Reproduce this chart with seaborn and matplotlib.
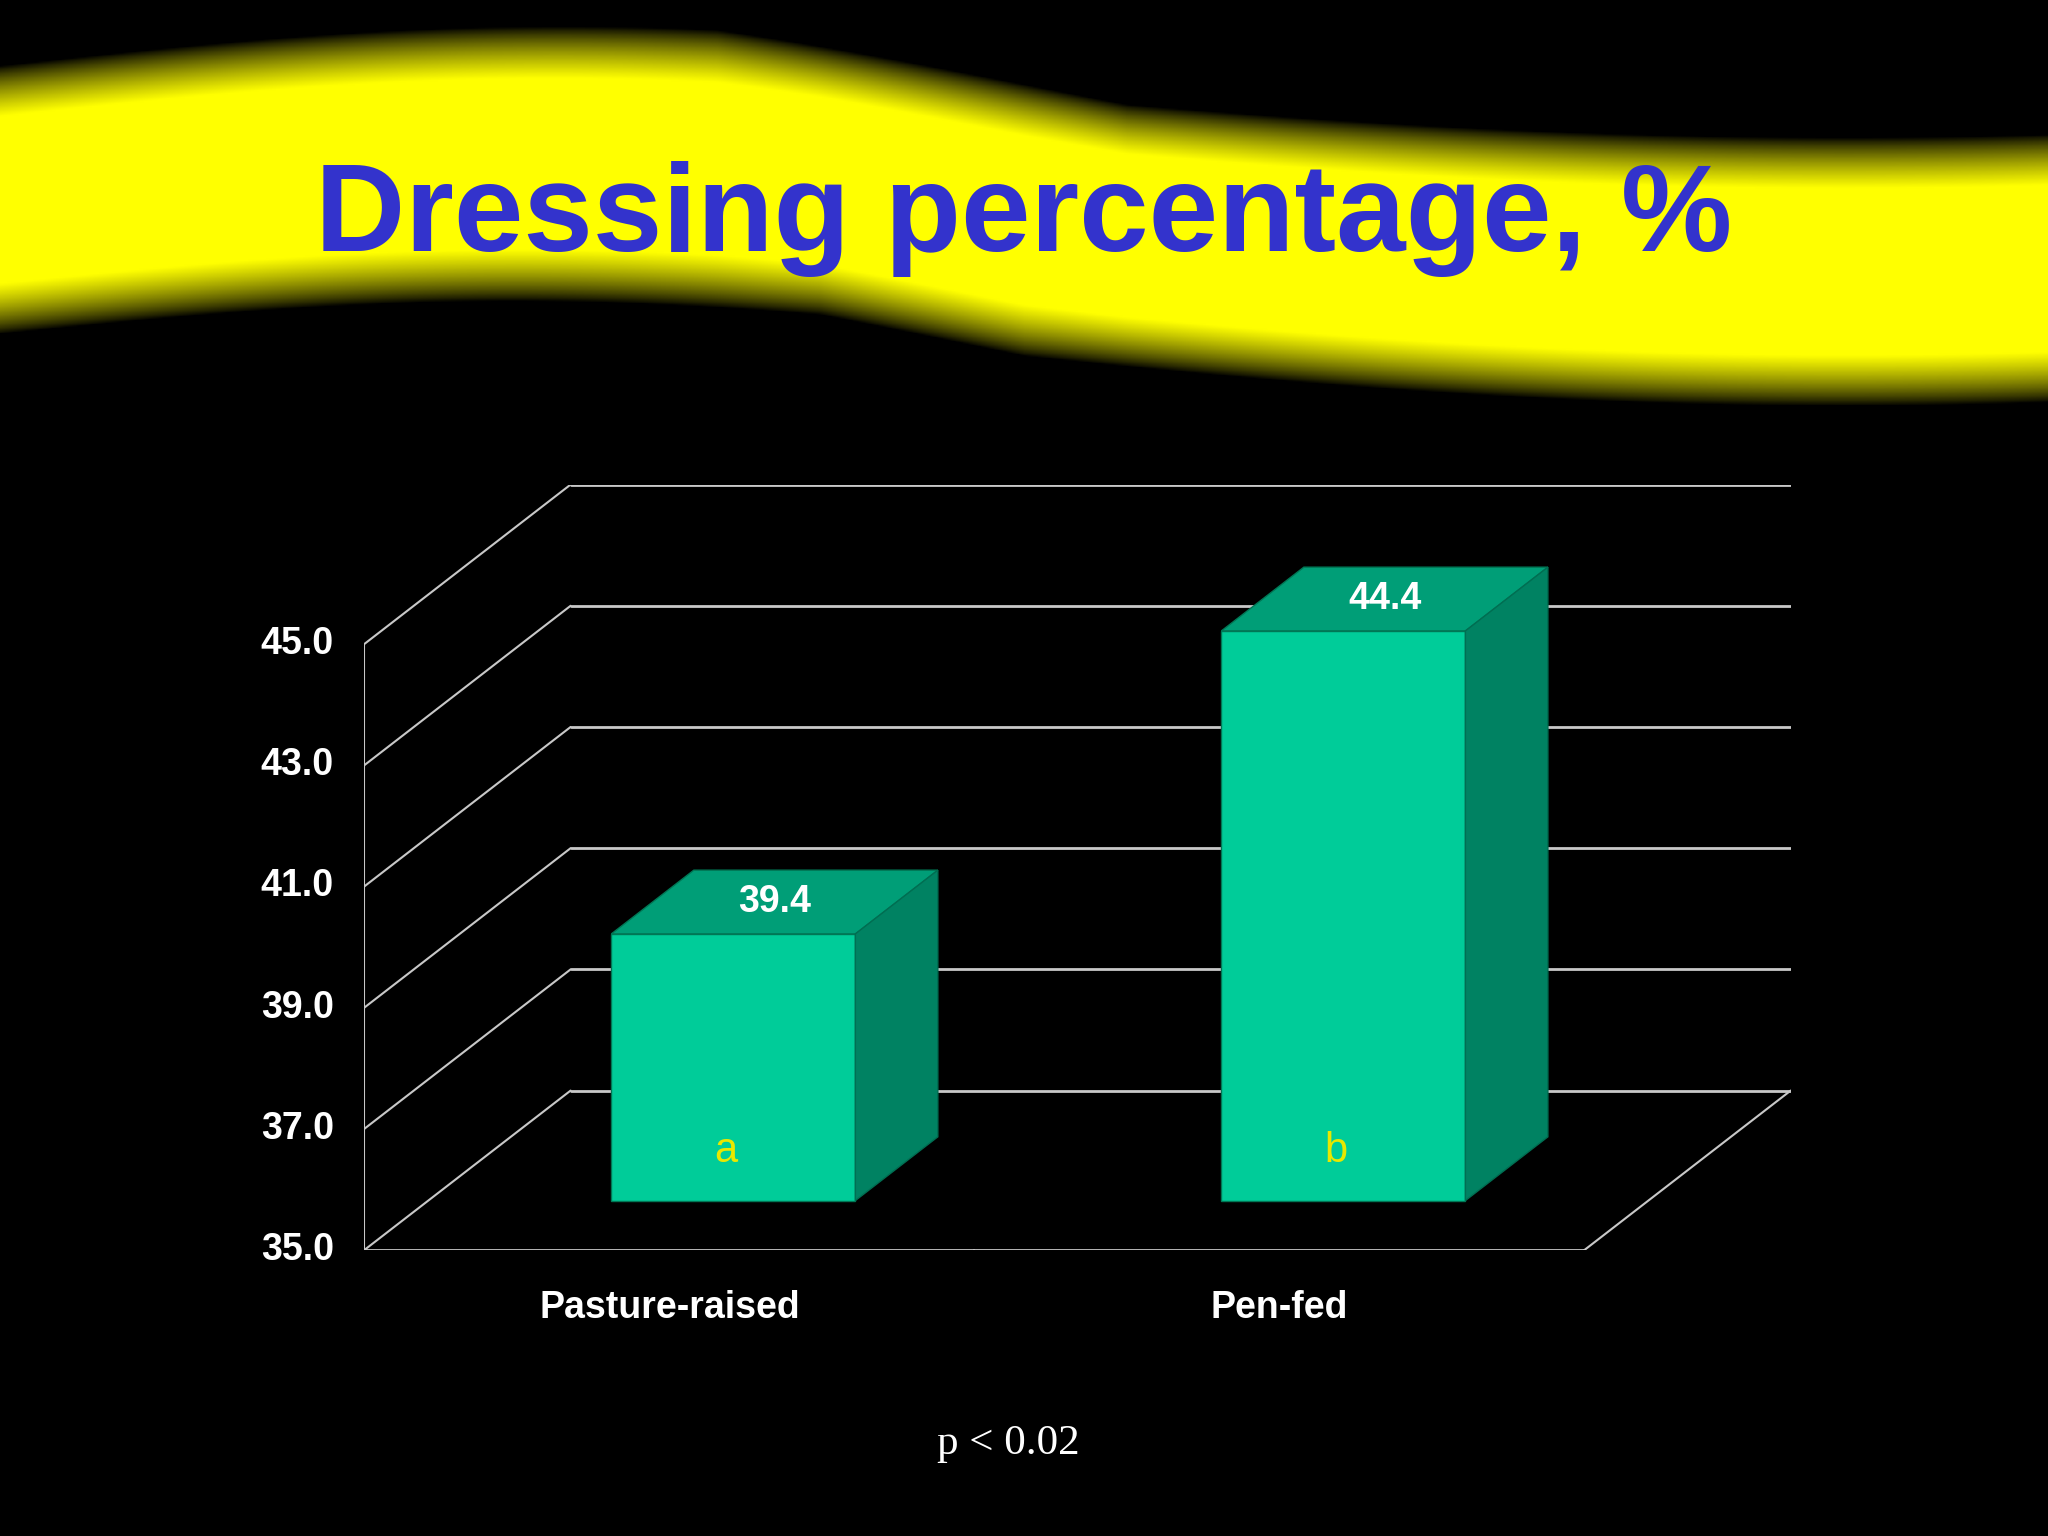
import numpy as np
import pandas as pd
import matplotlib
matplotlib.use("Agg")
import matplotlib.pyplot as plt
from matplotlib.patches import Polygon
import seaborn as sns

# data
groups = ["Pasture-raised", "Pen-fed"]
values = [39.4, 44.4]
letters = ["a", "b"]
yticks = [35.0, 37.0, 39.0, 41.0, 43.0, 45.0]

sns.set_theme(style="dark")
plt.rcParams["font.family"] = ["Liberation Sans", "DejaVu Sans"]

fig = plt.figure(figsize=(20.48, 15.36), dpi=100, facecolor="black")

# background with the wavy yellow band (reference pixel coords)
bg = fig.add_axes([0, 0, 1, 1])
bg.set_axis_off()
W, H = 1568, 1176
xs = np.arange(W)
u = xs / W
top_edge = 50 - 30 * np.sin(np.pi * u / 0.55) * (u < 0.55) + 55 * np.sin(np.pi * (u - 0.35) / 1.1) * (u > 0.35)
bot_edge = 255 - 25 * np.sin(np.pi * u / 0.5) * (u < 0.5) + 55 * np.sin(np.pi * (u - 0.4) / 1.0) * (u > 0.4)
yy = np.arange(H)[:, None]
t = (yy - top_edge[None, :]) / (bot_edge - top_edge)[None, :]
inside = (t >= 0) & (t <= 1)
strength = np.clip(np.sin(np.pi * np.clip(t, 0, 1)) * 1.8, 0, 1) ** 0.8 * inside
img = np.zeros((H, W, 3))
img[..., 0] = strength
img[..., 1] = strength
bg.imshow(img, extent=[0, W, H, 0], aspect="auto")
bg.set_xlim(0, W)
bg.set_ylim(H, 0)
bg.text(784, 168, "Dressing percentage, %", ha="center", va="center",
        fontsize=90, fontweight="bold", color="#3333cc")
bg.text(772, 1105, "p < 0.02", ha="center", va="center", fontsize=31,
        color="white", family=["Liberation Serif", "DejaVu Serif"])

# chart axes: x in category units, y in values
DX, DY = 0.338, 2.63      # full depth offset
d0, bd = 0.31, 0.40       # bar front depth, bar depth
ax = fig.add_axes([279 / W, 1 - 957 / H, (1371 - 279) / W, (957 - 371) / H])
ax.set_facecolor("none")
df = pd.DataFrame({"group": groups, "value": values})
sns.barplot(data=df, x="group", y="value", ax=ax, width=0.4,
            color="#00cc99", saturation=1, zorder=3)
ax.set_xlim(-0.5, 1.5 + DX)
ax.set_ylim(35, 45 + DY)
ax.set_axis_off()

grid = "#c8c8c8"
for v in yticks:
    ax.plot([-0.5, -0.5 + DX], [v, v + DY], color=grid, lw=1.5, zorder=1)
    ax.plot([-0.5 + DX, 1.5 + DX], [v + DY, v + DY], color=grid, lw=2, zorder=1)
    ax.plot([-0.52, -0.5], [v, v], color=grid, lw=1.5)
    ax.text(-0.55, v, f"{v:.1f}", ha="right", va="center", fontsize=27,
            fontweight="bold", color="white")
ax.plot([-0.5, 1.5], [35, 35], color=grid, lw=2, zorder=1)
ax.plot([1.5, 1.5 + DX], [35, 35 + DY], color=grid, lw=1.5, zorder=1)
ax.plot([-0.5, -0.5], [35, 45], color=grid, lw=1.5, zorder=1)
for xt in [-0.5, 0.5, 1.5]:
    ax.plot([xt, xt], [35, 34.8], color=grid, lw=1.5)

for i, (p, val) in enumerate(zip(ax.patches, values)):
    x0 = p.get_x() + d0 * DX
    w = p.get_width()
    y0 = 35 + d0 * DY
    p.set_x(x0)
    p.set_y(y0)
    p.set_height(val - 35)
    p.set_edgecolor("#007755")
    p.set_linewidth(1)
    x1, top = x0 + w, y0 + val - 35
    ox, oy = bd * DX, bd * DY
    ax.add_patch(Polygon([(x0, top), (x1, top), (x1 + ox, top + oy), (x0 + ox, top + oy)],
                         closed=True, facecolor="#009e77", edgecolor="#007755", zorder=4))
    ax.add_patch(Polygon([(x1, y0), (x1, top), (x1 + ox, top + oy), (x1 + ox, y0 + oy)],
                         closed=True, facecolor="#008262", edgecolor="#006e52", zorder=4))
    ax.text(x0 + w / 2 + ox / 2, top + oy / 2, f"{val:.1f}", ha="center", va="center",
            fontsize=27, fontweight="bold", color="white", zorder=5)
    ax.text(x0 + w * 0.47, y0 + 0.82, letters[i], ha="center", va="center",
            fontsize=30, color="#e8e800", zorder=5)
    ax.text(i, 34.05, groups[i], ha="center", va="center", fontsize=27,
            fontweight="bold", color="white")

fig.savefig("out.png", dpi=100, facecolor="black")
